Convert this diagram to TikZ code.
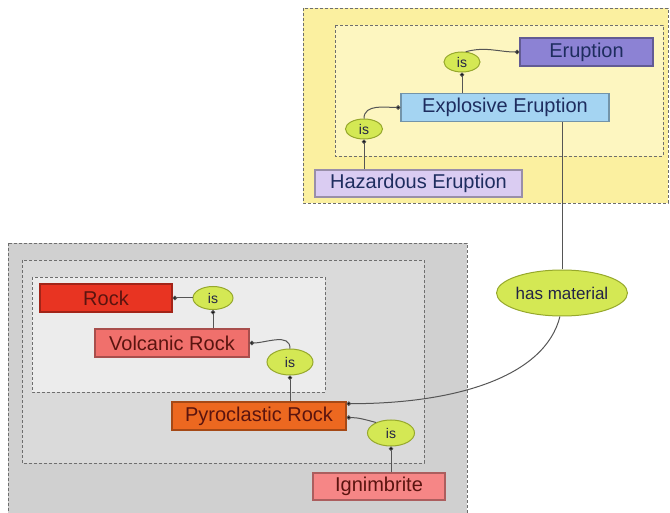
\documentclass[tikz,border=0pt]{standalone}
\usepackage{fontspec}
\setmainfont{Liberation Sans}
\usetikzlibrary{arrows.meta,shapes.geometric}
\definecolor{yelout}{RGB}{251,240,160}
\definecolor{yelin}{RGB}{253,246,192}
\definecolor{grayout}{RGB}{208,208,208}
\definecolor{graymid}{RGB}{218,218,218}
\definecolor{grayin}{RGB}{236,236,236}
\definecolor{grpline}{RGB}{110,110,110}
\definecolor{txt}{RGB}{35,35,70}
\definecolor{rockc}{RGB}{232,52,34}
\definecolor{volcc}{RGB}{240,112,108}
\definecolor{pyroc}{RGB}{236,104,32}
\definecolor{ignic}{RGB}{246,134,134}
\definecolor{erupc}{RGB}{140,130,212}
\definecolor{explc}{RGB}{164,212,242}
\definecolor{hazc}{RGB}{218,204,242}
\definecolor{isfill}{RGB}{212,232,84}
\definecolor{isline}{RGB}{150,168,44}
\definecolor{conncol}{RGB}{85,85,85}
\definecolor{navytxt}{RGB}{30,45,95}
\definecolor{redtxt}{RGB}{90,20,15}
\begin{document}
\begin{tikzpicture}[x=1pt,y=-1pt,
  concept/.style={draw=#1!70!black, fill=#1, line width=1.1pt, rectangle,
    minimum height=28pt, inner sep=0pt,
    font=\fontsize{20}{22}\selectfont},
  isnode/.style={ellipse, draw=isline, fill=isfill, line width=1pt, inner sep=0pt,
    text=txt, font=\fontsize{14}{16}\selectfont},
  grp/.style={draw=grpline, line width=0.9pt, dash pattern=on 3pt off 2pt},
  conn/.style={draw=conncol, line width=1pt, -{Circle[length=4.5pt,fill=black]}},
  plain/.style={draw=conncol, line width=1pt}]
\useasboundingbox (0,0) rectangle (670,513);
% group boxes
\draw[grp, fill=yelout] (303,8) rectangle (668,203);
\draw[grp, fill=yelin] (335,25) rectangle (663,156);
\draw[grp, fill=grayout] (8,243) rectangle (467,516);
\draw[grp, fill=graymid] (22,260) rectangle (424,463);
\draw[grp, fill=grayin] (32,277) rectangle (325,392);
% concepts
\node[concept=erupc, text=navytxt, minimum width=133pt] (erup) at (586.5,52) {Eruption};
\node[concept=explc, text=navytxt, minimum width=208pt] (expl) at (505,107.5) {Explosive Eruption};
\node[concept=hazc, text=navytxt, minimum width=207pt, minimum height=27pt] (haz) at (418.5,183.5) {Hazardous Eruption};
\node[concept=rockc, text=redtxt, minimum width=132pt] (rock) at (106,298) {Rock};
\node[concept=volcc, text=redtxt, minimum width=154pt] (volc) at (172,343) {Volcanic Rock};
\node[concept=pyroc, text=redtxt, minimum width=174pt] (pyro) at (259,416) {Pyroclastic Rock};
\node[concept=ignic, text=redtxt, minimum width=132pt, minimum height=27pt] (igni) at (379,486.5) {Ignimbrite};
% relation nodes
\node[isnode, minimum width=36pt, minimum height=20pt] (eis) at (462,62) {is};
\node[isnode, minimum width=37pt, minimum height=20pt] (his) at (364,129) {is};
\node[isnode, minimum width=40pt, minimum height=23pt] (ris) at (213,298) {is};
\node[isnode, minimum width=46pt, minimum height=26pt] (vis) at (290,362) {is};
\node[isnode, minimum width=47pt, minimum height=26pt] (pis) at (391,433) {is};
\node[isnode, minimum width=116pt, minimum height=46pt, font=\fontsize{17}{19}\selectfont] (hm) at (562,293) {has material};
% connectors
\draw[conn] (haz.north -| his) -- (his.south);
\draw[conn] (his.north) to[out=90,in=180] (expl.west);
\draw[conn] (expl.north -| eis) -- (eis.south);
\draw[conn] (eis.70) to[out=15,in=180] (erup.west);
\draw[plain] (expl.south -| hm.north) -- (hm.north);
\draw[conn] (hm.265) .. controls +(-15,60) and +(110,0) .. (pyro.8);
\draw[conn] (igni.north -| pis) -- (pis.south);
\draw[conn] (pis.145) to[out=165,in=0] (pyro.-1);
\draw[conn] (pyro.north -| vis) -- (vis.south);
\draw[conn] (vis.north) to[out=90,in=0] (volc.east);
\draw[conn] (volc.north -| ris) -- (ris.south);
\draw[conn] (ris.west) -- (rock.east);
\end{tikzpicture}
\end{document}
